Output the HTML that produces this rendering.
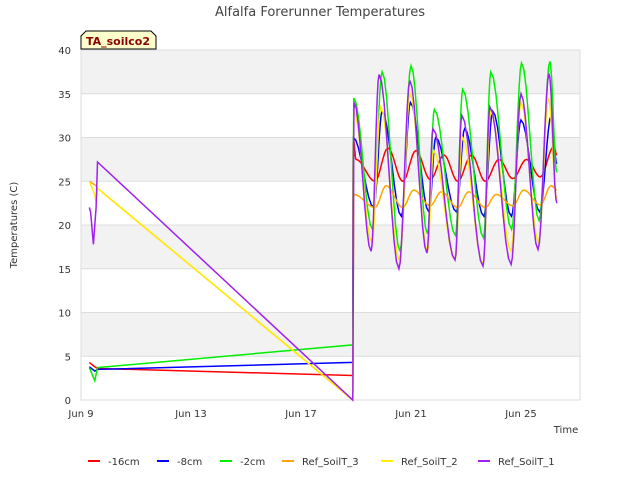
<!DOCTYPE html>
<html><head><meta charset="utf-8"><style>
body{margin:0;background:#fff;font-family:"Liberation Sans","DejaVu Sans",sans-serif}
svg text{font-family:"DejaVu Sans","Liberation Sans",sans-serif}
</style></head><body>
<svg id="c" width="640" height="480" xmlns="http://www.w3.org/2000/svg">
<text x="320" y="16" text-anchor="middle" font-size="13" fill="#444">Alfalfa Forerunner Temperatures</text>
<g id="bands"></g><g id="grid"></g><g id="axes"></g><g id="series"></g><g id="legend"></g>
<g>
<path d="M81,49 L81,36 L86,31 L151,31 L156,36 L156,49 Z" fill="#ffffcc" stroke="#000" stroke-width="1"/>
<text x="118" y="45" text-anchor="middle" font-size="11" font-weight="bold" fill="#8b0000">TA_soilco2</text></g>
<text x="566" y="433" text-anchor="middle" font-size="10" fill="#333">Time</text>
<text transform="translate(17,225) rotate(-90)" text-anchor="middle" font-size="10" fill="#333">Temperatures (C)</text>
</svg>
<script>
const xTickDays=[0,4,8,12,16];
const xTickLabels=["Jun 9","Jun 13","Jun 17","Jun 21","Jun 25"];
const yTicks=[0,5,10,15,20,25,30,35,40];
const seriesNames=["-16cm","-8cm","-2cm","Ref_SoilT_3","Ref_SoilT_2","Ref_SoilT_1"];
const seriesColors=["#ff0000","#0000ff","#00ee00","#ffa500","#ffee00","#a020f0"];
const redT=[0.3,0.5,0.6,9.88,9.9,10.0,10.69,11.16,11.7,12.18,12.7,13.2,13.7,14.2,14.7,15.2,15.7,16.2,16.7,17.2,17.3];
const redV=[4.3,3.8,3.6,2.8,30,27.5,25,28.8,25,28.5,25.2,28,25,28,25,27.5,25.3,27.5,25.5,29,28];
const blueT=[0.3,0.5,0.6,9.88,9.9,10.65,10.95,11.65,11.98,12.65,12.9,13.65,13.95,14.65,14.97,15.65,16.0,16.68,17.1,17.3];
const blueV=[3.8,3.3,3.5,4.3,30,22,33,21,34,21.5,30,21.5,31,21,33,21,32,21.5,32.5,27];
const greenT=[0.3,0.5,0.6,9.88,9.92,10.6,10.95,11.6,12.0,12.6,12.85,13.62,13.88,14.64,14.9,15.66,16.02,16.66,17.05,17.3];
const greenV=[3.7,2.2,3.7,6.3,34.5,19.5,37.5,17,38.2,19,33.2,18.8,35.5,18.5,37.5,19.5,38.5,20.5,38.7,26];
const orangeT=[0.3,0.55,0.6,9.88,9.92,10.69,11.1,11.7,12.1,12.7,13.1,13.7,14.1,14.7,15.1,15.7,16.1,16.7,17.1,17.3];
const orangeV=[25,24.5,24.2,0,23.5,22,24.5,22,24,22.2,23.8,22,23.8,22,23.5,22.2,24,22.3,24.5,24];
const yellowT=[0.3,0.5,0.55,0.6,9.88,9.92,10.58,10.9,11.58,11.97,12.6,12.82,13.6,13.87,14.62,14.9,15.64,16.0,16.64,17.0,17.3];
const yellowV=[25,23.5,22.6,24.2,0,33,18,33.5,16,35,17,28.5,16,30,15.5,33,17,34,18,34.5,23];
const purpleT=[0.3,0.35,0.45,0.55,0.6,9.88,9.93,10.55,10.84,11.56,11.96,12.58,12.8,13.6,13.85,14.62,14.87,15.64,16.0,16.62,17.02,17.3];
const purpleV=[22,21.5,17.8,22,27.2,0,34,17,37.2,15,36.5,16.8,31,16,32.5,15.3,33.5,15.5,35,17.2,37.3,22.5];
const allT=[redT,blueT,greenT,orangeT,yellowT,purpleT];
const allV=[redV,blueV,greenV,orangeV,yellowV,purpleV];

const L=81,R=580,T=50,B=400;
const xs=d=>L+d*27.5, ys=v=>B-(v/40)*(B-T);
const NS="http://www.w3.org/2000/svg";
function mk(tag,attrs,parent){const e=document.createElementNS(NS,tag);for(const k in attrs)e.setAttribute(k,attrs[k]);document.getElementById(parent).appendChild(e);return e;}
for(let i=0;i<yTicks.length-1;i++){
  if(i%2===1){const r=mk('rect',{x:L,y:ys(yTicks[i+1]),width:R-L,height:ys(yTicks[i])-ys(yTicks[i+1]),fill:'#f2f2f2'},'bands');
  
  }
}
yTicks.forEach(v=>{
  const l=mk('line',{x1:L,x2:R,y1:ys(v),y2:ys(v),stroke:'#dddddd'},'grid');
  
  
  const t=mk('text',{x:L-10,y:ys(v)+4,'text-anchor':'end','font-size':'10',fill:'#333'},'axes');t.textContent=v;
  
  
});
mk('rect',{x:L,y:T,width:R-L,height:B-T,fill:'none',stroke:'#dddddd'},'grid');
xTickDays.forEach((d,i)=>{
  const t=mk('text',{x:xs(d),y:417,'text-anchor':'middle','font-size':'10',fill:'#333'},'axes');t.textContent=xTickLabels[i];
  
  
});
allT.forEach((tArr,s)=>{
  let d='M'+xs(tArr[0]).toFixed(1)+','+ys(allV[s][0]).toFixed(1);
  for(let i=1;i<tArr.length;i++){
    const t0=tArr[i-1],t1=tArr[i],v0=allV[s][i-1],v1=allV[s][i];
    if(t1-t0<1.5&&t0>9){for(let k=1;k<=8;k++){const f=k/8,g=(1-Math.cos(Math.PI*f))/2;d+='L'+xs(t0+(t1-t0)*f).toFixed(1)+','+ys(v0+(v1-v0)*g).toFixed(1);}}
    else d+='L'+xs(t1).toFixed(1)+','+ys(v1).toFixed(1);
  }
  const p=mk('path',{d:d,fill:'none',stroke:seriesColors[s],'stroke-width':'1.5'},'series');
  
  
});
const legX=[88,157,220,282,381,478];
seriesNames.forEach((n,i)=>{
  const l=mk('line',{x1:legX[i],x2:legX[i]+12,y1:461,y2:461,stroke:seriesColors[i],'stroke-width':'2'},'legend');
  
  
  const t=mk('text',{x:legX[i]+20,y:465,'font-size':'10',fill:'#333'},'legend');t.textContent=n;
  
  
});
</script>
</body></html>
